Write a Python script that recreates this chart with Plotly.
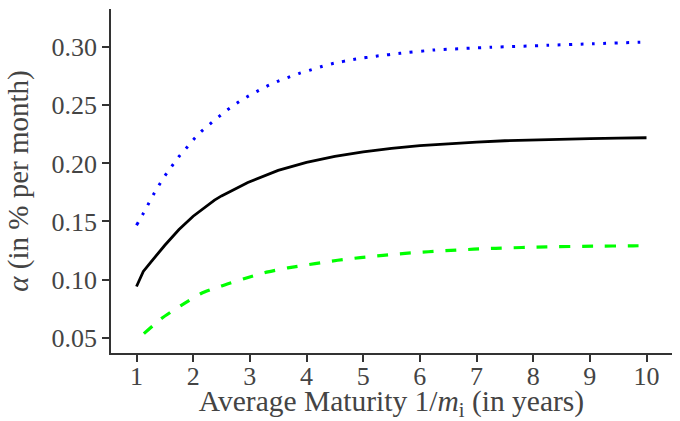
import plotly.graph_objects as go

# Black solid series
x_black = [1.0, 1.12, 1.25, 1.5, 1.75, 2.0, 2.377, 2.5, 2.965, 3.5, 4.0, 4.5, 5.0,
           5.5, 6.0, 6.5, 7.0, 7.5, 8.0, 8.5, 9.0, 9.5, 10.0]
y_black = [0.094, 0.107, 0.1148, 0.1295, 0.1430, 0.1545, 0.1684, 0.1720, 0.1836,
           0.1940, 0.2008, 0.2060, 0.2100, 0.2130, 0.2153, 0.2170, 0.2184, 0.2195,
           0.2203, 0.2209, 0.2214, 0.2218, 0.2221]

# Blue dotted series
x_blue = [1.0, 1.11, 1.206, 1.30, 1.405, 1.51, 1.628, 1.751, 1.88, 2.008, 2.149,
          2.30, 2.46, 2.618, 2.782, 2.953, 3.128, 3.304, 3.492, 3.679, 3.873,
          4.066, 4.254, 4.45, 4.85, 5.25, 5.65, 6.25, 7.25, 8.25, 9.05, 9.85, 10.0]
y_blue = [0.1468, 0.1560, 0.1647, 0.1733, 0.1819, 0.1899, 0.1979, 0.2060, 0.2132,
          0.2207, 0.2278, 0.2341, 0.2405, 0.2466, 0.2522, 0.2574, 0.2621, 0.2666,
          0.2707, 0.2741, 0.2776, 0.2804, 0.2833, 0.2859, 0.2897, 0.2925, 0.2948,
          0.2977, 0.3000, 0.3017, 0.3031, 0.3043, 0.3045]

# Green dashed series
x_green = [1.13, 1.44, 1.79, 2.14, 2.5, 2.91, 3.32, 3.67, 4.15, 4.55, 4.95, 5.35,
           5.74, 6.15, 6.55, 6.95, 7.34, 8.24, 9.06, 9.76, 10.0]
y_green = [0.0534, 0.0664, 0.0778, 0.0879, 0.0945, 0.1009, 0.1066, 0.1100, 0.1137,
           0.1166, 0.1189, 0.1208, 0.1225, 0.1239, 0.1251, 0.1261, 0.1269, 0.1281,
           0.1287, 0.1290, 0.1292]

x_ticks = [1, 2, 3, 4, 5, 6, 7, 8, 9, 10]
y_ticks = [0.05, 0.10, 0.15, 0.20, 0.25, 0.30]
y_tick_labels = ["0.05", "0.10", "0.15", "0.20", "0.25", "0.30"]

FONT = "'Liberation Serif', 'Times New Roman', 'DejaVu Serif', serif"

fig = go.Figure()
fig.add_trace(go.Scatter(x=x_blue, y=y_blue, mode="lines",
                         line=dict(color="#0000FF", width=3, dash="3px,8.4px",
                                   shape="spline", smoothing=0.5),
                         showlegend=False))
fig.add_trace(go.Scatter(x=x_black, y=y_black, mode="lines",
                         line=dict(color="#000000", width=2.8),
                         showlegend=False))
fig.add_trace(go.Scatter(x=x_green, y=y_green, mode="lines",
                         line=dict(color="#00FF00", width=3.2, dash="11px,11.8px",
                                   shape="spline", smoothing=0.6),
                         showlegend=False))

fig.update_layout(
    width=680, height=421,
    margin=dict(l=111, r=8, t=9, b=68),
    paper_bgcolor="white", plot_bgcolor="white",
    font=dict(family=FONT, size=26, color="#333333"),
)
fig.update_xaxes(
    range=[0.55, 10.45], tickvals=x_ticks, ticktext=[str(v) for v in x_ticks],
    automargin=False,
    showgrid=False, zeroline=False, showline=True, linecolor="#333333", linewidth=1.6,
    ticks="outside", ticklen=7, tickwidth=1.5, tickcolor="#333333",
    ticklabelstandoff=-8,
    tickfont=dict(family=FONT, size=26, color="#444444"),
    title=dict(text="Average Maturity 1/<i>m</i><sub>i</sub> (in years)",
               font=dict(family=FONT, size=29.5, color="#444444"), standoff=6),
)
fig.update_yaxes(
    range=[0.0367, 0.333], tickvals=y_ticks, ticktext=y_tick_labels,
    automargin=False,
    showgrid=False, zeroline=False, showline=True, linecolor="#333333", linewidth=1.6,
    ticks="outside", ticklen=7, tickwidth=1.5, tickcolor="#333333",
    tickfont=dict(family=FONT, size=26, color="#444444"),
    title=dict(text="<i>α</i> (in % per month)",
               font=dict(family=FONT, size=29, color="#444444"), standoff=14),
)

fig.write_html("out.html", config={"displayModeBar": False},
               post_script="document.body.style.margin='0';")
